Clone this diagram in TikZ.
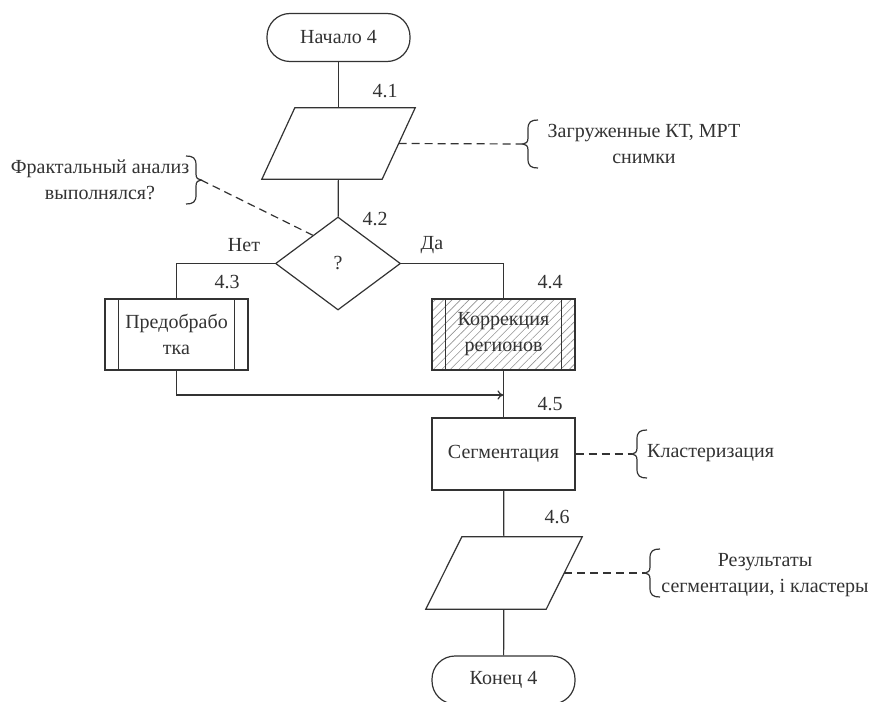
\documentclass[tikz,border=0pt]{standalone}
\usepackage{fontspec}
\setmainfont{Liberation Serif}
\usetikzlibrary{shapes.geometric,patterns.meta,arrows.meta,calc}
\definecolor{ink}{HTML}{333333}
\tikzset{
  base/.style={font=\fontsize{20}{26}\selectfont, text=ink},
  term/.style={base, draw=ink, line width=1.2pt, rounded corners=23pt, minimum width=143pt, minimum height=48pt, inner sep=0},
  box/.style={base, draw=ink, line width=1.2pt, minimum width=143pt, minimum height=71pt, inner sep=0, align=center},
  iobox/.style={minimum width=120pt, minimum height=71pt, inner sep=0},
  decision/.style={base, diamond, draw=ink, line width=1.2pt, minimum width=125pt, minimum height=93pt, inner sep=0},
  num/.style={font=\fontsize{20}{22}\selectfont, text=ink},
  note/.style={base, align=center, inner sep=0},
  conn/.style={draw=ink, line width=1.2pt},
  dashconn/.style={draw=ink, line width=1.2pt, dash pattern=on 8pt off 5pt},
  lbrace/.pic={\draw[ink, line width=1.2pt] (15,-24) .. controls (8,-24) and (5,-22) .. (5,-15) -- (5,-6) .. controls (5,-2) and (3,0) .. (0,0) .. controls (3,0) and (5,2) .. (5,6) -- (5,15) .. controls (5,22) and (8,24) .. (15,24);},
  rbrace/.pic={\draw[ink, line width=1.2pt] (-15,-24) .. controls (-8,-24) and (-5,-22) .. (-5,-15) -- (-5,-6) .. controls (-5,-2) and (-3,0) .. (0,0) .. controls (-3,0) and (-5,2) .. (-5,6) -- (-5,15) .. controls (-5,22) and (-8,24) .. (-15,24);}
}
\begin{document}
\begin{tikzpicture}[x=1pt,y=-1pt]
\fill[white] (0,0) rectangle (872,701);
\useasboundingbox (0,0) rectangle (872,701);

% main nodes
\node[term] (start) at (338.5,37.5) {Начало 4};
\node[iobox] (p41) at (338.5,143.5) {};
\draw[conn] ([xshift=16.5pt]p41.north west) -- ([xshift=16.5pt]p41.north east) -- ([xshift=-16.5pt]p41.south east) -- ([xshift=-16.5pt]p41.south west) -- cycle;
\node[decision] (dec) at (338,263.5) {?};
\node[box] (p43) at (176.5,334.5) {Предобрабо\\тка};
\draw[conn] ([xshift=14pt]p43.north west) -- ([xshift=14pt]p43.south west);
\draw[conn] ([xshift=-14pt]p43.north east) -- ([xshift=-14pt]p43.south east);
\node[box, pattern={Lines[angle=45,distance=6pt,line width=0.6pt]}, pattern color=gray!85] (p44) at (503.5,334.5) {Коррекция\\регионов};
\draw[conn] ([xshift=14pt]p44.north west) -- ([xshift=14pt]p44.south west);
\draw[conn] ([xshift=-14pt]p44.north east) -- ([xshift=-14pt]p44.south east);
\node[box, minimum height=72pt] (p45) at (503.5,454) {Сегментация};
\node[iobox, minimum height=72pt] (p46) at (504,573) {};
\draw[conn] ([xshift=18pt]p46.north west) -- ([xshift=18pt]p46.north east) -- ([xshift=-18pt]p46.south east) -- ([xshift=-18pt]p46.south west) -- cycle;
\node[term] (end) at (503.5,680) {Конец 4};

% connectors
\draw[conn] (start) -- (p41);
\draw[conn] (p41) -- (dec);
\draw[conn] (dec.west) -| (p43.north);
\draw[conn] (dec.east) -| (p44.north);
\coordinate (join) at (503.5,395);
\draw[conn, -{To[length=6pt,width=9pt]}] (p43.south) |- (join);
\draw[conn] (p44) -- (p45);
\draw[conn] (p45) -- (p46);
\draw[conn] (p46) -- (end);

% step numbers and branch labels
\node[num] (n41) at (385,91) {4.1};
\node[num] (n42) at (375,219) {4.2};
\node[num] (n43) at (227,282) {4.3};
\node[num] (n44) at (550,282) {4.4};
\node[num] (n45) at (550,404) {4.5};
\node[num] (n46) at (557,517) {4.6};
\node[base] (no) at (244,245) {Нет};
\node[base] (yes) at (432,245) {Да};

% annotations
\coordinate (t1) at (523,144);
\pic at (t1) {lbrace};
\draw[dashconn] (p41.east) -- (t1);
\node[note] (a1) at (644,144) {Загруженные КТ, МРТ\\снимки};

\coordinate (t2) at (201,180);
\pic at (t2) {rbrace};
\node[note] (a2) at (100,180) {Фрактальный анализ\\выполнялся?};
\draw[dashconn] (t2) -- ($(dec.west)!0.6!(dec.north)$);

\coordinate (t3) at (632,454);
\pic at (t3) {lbrace};
\draw[dashconn] (p45.east) -- (t3);
\node[note, anchor=west] (a3) at (647,453) {Кластеризация};

\coordinate (t4) at (645,573);
\pic at (t4) {lbrace};
\draw[dashconn] (p46.east) -- (t4);
\node[note] (a4) at (765,575) {Результаты\\сегментации, і кластеры};
\end{tikzpicture}
\end{document}
